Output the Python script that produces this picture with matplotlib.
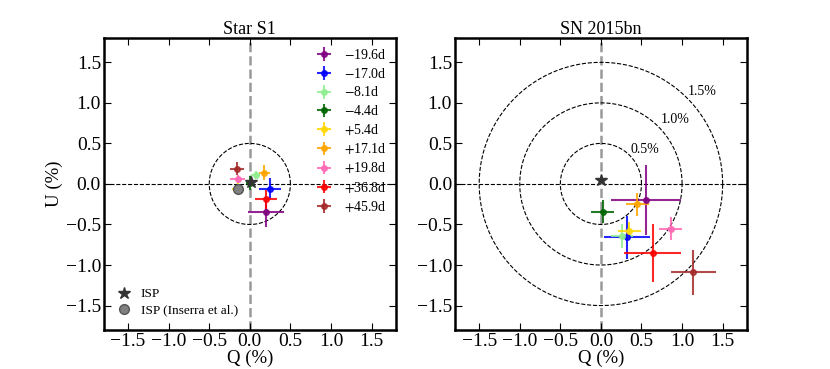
import matplotlib
matplotlib.use("Agg")
import matplotlib.pyplot as plt
import numpy as np

plt.rcParams['font.family'] = ['Liberation Serif', 'DejaVu Serif']
plt.rcParams['mathtext.fontset'] = 'stix'

# epochs and colours
epochs = ['$-$19.6d', '$-$17.0d', '$-$8.1d', '$-$4.4d', '$+$5.4d',
          '$+$17.1d', '$+$19.8d', '$+$36.8d', '$+$45.9d']
colors = ['purple', 'blue', 'lightgreen', 'darkgreen', 'gold',
          'orange', 'hotpink', 'red', 'brown']

# Star S1 (Q, U, errors)
s1_q = [0.20, 0.25, 0.07, 0.00, -0.15, 0.18, -0.15, 0.20, -0.16]
s1_u = [-0.35, -0.06, 0.11, 0.01, -0.06, 0.14, 0.066, -0.19, 0.19]
s1_qerr = [0.22, 0.14, 0.05, 0.05, 0.07, 0.07, 0.09, 0.14, 0.09]
s1_uerr = [0.18, 0.13, 0.05, 0.09, 0.07, 0.09, 0.05, 0.12, 0.08]

# SN 2015bn
sn_q = [0.56, 0.32, 0.26, 0.02, 0.35, 0.45, 0.86, 0.64, 1.14]
sn_u = [-0.20, -0.66, -0.64, -0.34, -0.58, -0.25, -0.55, -0.85, -1.09]
sn_qerr = [0.43, 0.28, 0.14, 0.14, 0.14, 0.14, 0.14, 0.35, 0.28]
sn_uerr = [0.43, 0.27, 0.15, 0.14, 0.11, 0.14, 0.14, 0.36, 0.28]

isp_s1 = (0.01, 0.03)
isp_inserra = (-0.15, -0.066)
isp_sn = (0.0, 0.05)

radii_s1 = [0.5]
radii_sn = [0.5, 1.0, 1.5]
radius_labels = ['0.5%', '1.0%', '1.5%']
label_pos = [(0.54, 0.43), (0.91, 0.79), (1.25, 1.14)]

fig = plt.figure(figsize=(8.3, 3.69), dpi=100)
ax1 = fig.add_axes([0.125, 0.106, 0.352, 0.791])
ax2 = fig.add_axes([0.548, 0.106, 0.352, 0.791])

t = np.linspace(0, 2 * np.pi, 400)

def setup(ax, title, radii):
    ax.axhline(0, color='k', ls='--', lw=0.8, zorder=1)
    ax.axvline(0, color='#999999', ls='--', lw=1.8, zorder=1)
    for r in radii:
        ax.plot(r * np.cos(t), r * np.sin(t), 'k--', lw=0.8, zorder=1)
    ax.set_xlim(-1.8, 1.8)
    ax.set_ylim(-1.8, 1.8)
    ax.set_xticks(np.arange(-1.5, 1.51, 0.5))
    ax.set_yticks(np.arange(-1.5, 1.51, 0.5))
    ax.tick_params(direction='in', top=True, right=True, labelsize=14,
                   length=5, pad=2)
    for s in ax.spines.values():
        s.set_linewidth(1.8)
    ax.set_xlabel('Q (%)', fontsize=13.5, labelpad=0)
    ax.set_title(title, fontsize=13, pad=3)

setup(ax1, 'Star S1', radii_s1)
ax1.set_ylabel('U (%)', fontsize=13.5, labelpad=2)
setup(ax2, 'SN 2015bn', radii_sn)

for i in range(len(epochs)):
    ax1.errorbar(s1_q[i], s1_u[i], xerr=s1_qerr[i], yerr=s1_uerr[i], fmt='o',
                 color=colors[i], ms=4, elinewidth=1.5, capsize=0, alpha=0.85,
                 label=epochs[i], zorder=3)
    ax2.errorbar(sn_q[i], sn_u[i], xerr=sn_qerr[i], yerr=sn_uerr[i], fmt='o',
                 color=colors[i], ms=4, elinewidth=1.5, capsize=0, alpha=0.85,
                 zorder=3)

st, = ax1.plot(*isp_s1, '*', color='#333333', ms=9, zorder=5)
gc, = ax1.plot(*isp_inserra, 'o', color='gray', mec='#555555', ms=7, zorder=4)
ax2.plot(*isp_sn, '*', color='#333333', ms=9, zorder=5)

for lab, (x, y) in zip(radius_labels, label_pos):
    ax2.text(x, y, lab, fontsize=10, ha='center', va='center')

leg1 = ax1.legend(loc='upper right', frameon=False, fontsize=10,
                  handlelength=1.2, labelspacing=0.35, borderaxespad=0.3)
ax1.add_artist(leg1)
ax1.legend([st, gc], ['ISP', 'ISP (Inserra et al.)'], loc='lower left',
           frameon=False, fontsize=9.5, handlelength=1.0, labelspacing=0.3,
           borderaxespad=0.6)

fig.savefig('out.png', dpi=100)
